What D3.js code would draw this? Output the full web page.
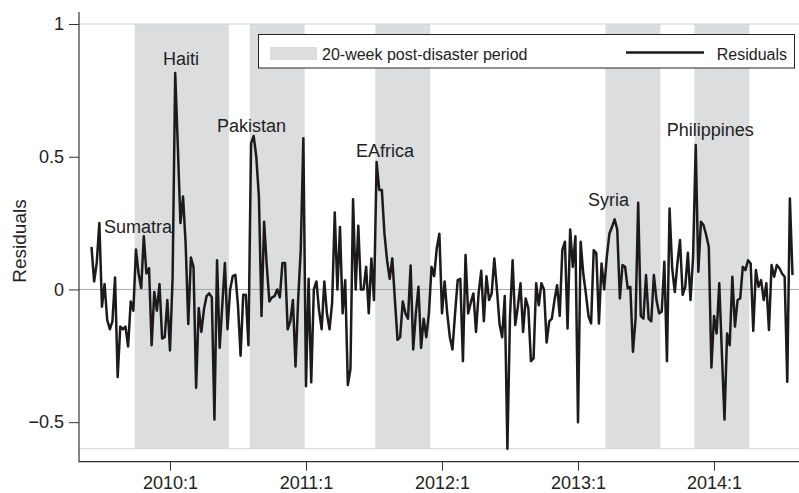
<!DOCTYPE html>
<html>
<head>
<meta charset="utf-8">
<script src="https://cdnjs.cloudflare.com/ajax/libs/d3/7.8.5/d3.min.js"></script>
<style>
    body { margin: 0; background: #fff; }
    svg { display: block; font-family: "Liberation Sans", Arial, Helvetica, sans-serif; }
    .tick text { fill: #222; }
</style>
</head>
<body>
<div id="chart"></div>
<script>
// weekly residuals, first value is 2009w23 (weeks counted from 2010w1 = 0)
const firstWeek = -30;
const residuals = [
    0.16, 0.03, 0.10, 0.25, -0.065, 0.02, -0.115, -0.15, -0.12, 0.045,
    -0.33, -0.14, -0.15, -0.14, -0.215, -0.045, -0.08, 0.15, 0.06, 0.005,
    0.20, 0.06, 0.08, -0.21, -0.01, -0.08, 0.02, -0.185, -0.18, -0.04,
    -0.23, 0.04, 0.815, 0.54, 0.25, 0.35, 0.17, -0.13, 0.12, 0.085,
    -0.37, -0.07, -0.16, -0.075, -0.025, -0.015, -0.03, -0.49, 0.11, -0.22,
    -0.06, 0.10, -0.15, 0.0, 0.05, 0.055, -0.06, -0.25, -0.02, -0.02,
    -0.21, 0.55, 0.578, 0.50, 0.35, -0.10, 0.255, 0.09, -0.045, -0.03,
    -0.025, 0.0, -0.03, 0.10, 0.10, -0.15, -0.12, -0.04, -0.29, -0.04,
    0.15, 0.57, -0.365, 0.04, -0.35, 0.0, 0.03, -0.08, -0.15, 0.03,
    -0.09, -0.15, -0.05, 0.29, 0.0, 0.235, -0.09, 0.035, -0.36, -0.30,
    0.34, 0.0, 0.24, 0.0, 0.0, 0.085, -0.09, 0.117, -0.04, 0.48,
    0.375, 0.375, 0.21, 0.11, 0.04, 0.117, -0.04, -0.19, -0.18, -0.045,
    -0.09, -0.11, 0.09, -0.226, -0.09, 0.01, -0.22, -0.11, -0.18, -0.09,
    0.085, 0.05, 0.155, 0.21, -0.09, 0.03, -0.09, -0.18, -0.226, -0.09,
    0.035, 0.04, -0.27, 0.13, -0.09, -0.05, -0.015, -0.16, -0.015, 0.07,
    -0.12, 0.05, -0.04, -0.015, 0.117, 0.0, -0.13, -0.18, -0.025, -0.6,
    -0.10, 0.11, -0.134, -0.065, 0.023, -0.16, -0.034, -0.07, -0.27, -0.26,
    0.023, -0.06, 0.023, 0.0, -0.2, -0.12, -0.11, -0.04, 0.016, -0.10,
    0.148, 0.18, -0.147, 0.226, 0.085, 0.2, -0.5, 0.18, 0.06, -0.015,
    -0.10, -0.128, 0.148, 0.136, -0.128, 0.098, 0.0, 0.123, 0.21, 0.236,
    0.264, 0.226, -0.034, 0.092, 0.085, 0.004, 0.01, -0.235, -0.11, 0.327,
    -0.10, -0.11, 0.054, -0.11, -0.12, 0.054, -0.04, -0.09, -0.084, 0.104,
    -0.27, 0.305, 0.08, -0.01, 0.098, 0.186, -0.02, 0.01, 0.138, -0.04,
    0.123, 0.544, 0.067, 0.255, 0.242, 0.205, 0.16, -0.294, -0.10, -0.166,
    0.023, -0.24, -0.49, -0.166, -0.21, 0.048, -0.14, -0.04, -0.034, 0.085,
    0.073, 0.11, 0.098, -0.156, 0.073, 0.01, 0.035, -0.04, 0.023, -0.153,
    0.092, 0.048, 0.092, 0.08, 0.06, 0.048, -0.348, 0.343, 0.054
];

// disasters: week of event (from 2010w1) and where the label sits (week, residual)
const disasterNames = ["Sumatra", "Haiti", "Pakistan", "EAfrica", "Syria", "Philippines"];
const disasterWeeks = [-13, 2, 31, 79, 167, 201];
const labelWeeks = [-25.2, -2.7, 18.0, 71.1, 159.8, 189.9];
const labelValues = [0.212, 0.845, 0.593, 0.499, 0.314, 0.578];
const postWeeks = 20;

const tickYears = [2010, 2011, 2012, 2013, 2014];
const yTicks = [-0.5, 0, 0.5, 1];

const W = 799, H = 493;
const axisX = 79, axisY = 461.7;

const svg = d3.select('#chart').append('svg')
    .attr('width', W).attr('height', H);

const lastWeek = firstWeek + residuals.length - 1;
const x = d3.scaleLinear().domain([firstWeek, lastWeek]).range([91.5, 792.5]);
const y = d3.scaleLinear().domain([-0.6, 1]).range([448.7, 24]);

const data = residuals.map((v, i) => ({ week: firstWeek + i, value: v }));

// shaded post-disaster periods
svg.append('g').selectAll('rect')
    .data(disasterWeeks)
    .enter().append('rect')
    .attr('x', d => x(d - 0.5))
    .attr('width', d => x(d + postWeeks + 0.5) - x(d - 0.5))
    .attr('y', y(1))
    .attr('height', y(-0.6) - y(1))
    .attr('fill', '#dcdddf');

// light lines at top and bottom of plot region, zero line
svg.append('line').attr('x1', axisX).attr('x2', W).attr('y1', y(1)).attr('y2', y(1))
    .attr('stroke', '#d4d4d4').attr('stroke-width', 1);
svg.append('line').attr('x1', axisX).attr('x2', W).attr('y1', y(-0.6)).attr('y2', y(-0.6))
    .attr('stroke', '#d4d4d4').attr('stroke-width', 1);
svg.append('line').attr('x1', axisX).attr('x2', W).attr('y1', y(0)).attr('y2', y(0))
    .attr('stroke', '#a6a6a6').attr('stroke-width', 1);

// residual line
const line = d3.line().x(d => x(d.week)).y(d => y(d.value));
svg.append('path')
    .datum(data)
    .attr('d', line)
    .attr('fill', 'none')
    .attr('stroke', '#1c1a1b')
    .attr('stroke-width', 2.5)
    .attr('stroke-linejoin', 'round');

// axes
const yAxis = d3.axisLeft(y).tickValues(yTicks).tickSize(10).tickPadding(5)
    .tickFormat(d => d3.format('~g')(d));
const gy = svg.append('g').attr('transform', `translate(${axisX},0)`).call(yAxis);
gy.select('.domain').remove();
gy.selectAll('.tick line').attr('stroke', '#333');
gy.selectAll('.tick text').style('font-size', '18px');

const xAxis = d3.axisBottom(x).tickValues(tickYears.map(yr => (yr - 2010) * 52))
    .tickSize(9).tickPadding(6)
    .tickFormat(t => (2010 + t / 52) + ':1');
const gx = svg.append('g').attr('transform', `translate(0,${axisY})`).call(xAxis);
gx.select('.domain').remove();
gx.selectAll('.tick line').attr('stroke', '#333');
gx.selectAll('.tick text').style('font-size', '18px');

svg.append('line').attr('x1', axisX).attr('x2', axisX).attr('y1', 12).attr('y2', axisY + 0.5)
    .attr('stroke', '#333').attr('stroke-width', 1.2);
svg.append('line').attr('x1', axisX).attr('x2', W).attr('y1', axisY).attr('y2', axisY)
    .attr('stroke', '#333').attr('stroke-width', 1.2);

svg.append('text')
    .attr('transform', 'translate(26,241) rotate(-90)')
    .attr('text-anchor', 'middle')
    .style('font-size', '19px')
    .attr('fill', '#222')
    .text('Residuals');

// disaster labels
svg.append('g').selectAll('text')
    .data(disasterNames)
    .enter().append('text')
    .attr('x', (d, i) => x(labelWeeks[i]))
    .attr('y', (d, i) => y(labelValues[i]))
    .style('font-size', '18px')
    .attr('fill', '#222')
    .text(d => d);

// legend
const lg = svg.append('g');
lg.append('rect').attr('x', 258.5).attr('y', 34.5).attr('width', 536).attr('height', 33.5)
    .attr('fill', '#fff').attr('stroke', '#222').attr('stroke-width', 1);
lg.append('rect').attr('x', 270).attr('y', 47).attr('width', 47).attr('height', 13)
    .attr('fill', '#dcdddf');
lg.append('text').attr('x', 322).attr('y', 60).style('font-size', '16px').attr('fill', '#222')
    .text('20-week post-disaster period');
lg.append('line').attr('x1', 626).attr('x2', 704).attr('y1', 52.5).attr('y2', 52.5)
    .attr('stroke', '#1c1a1b').attr('stroke-width', 2.5);
lg.append('text').attr('x', 787).attr('y', 60).attr('text-anchor', 'end')
    .style('font-size', '16px').attr('fill', '#222')
    .text('Residuals');
</script>
</body>
</html>
